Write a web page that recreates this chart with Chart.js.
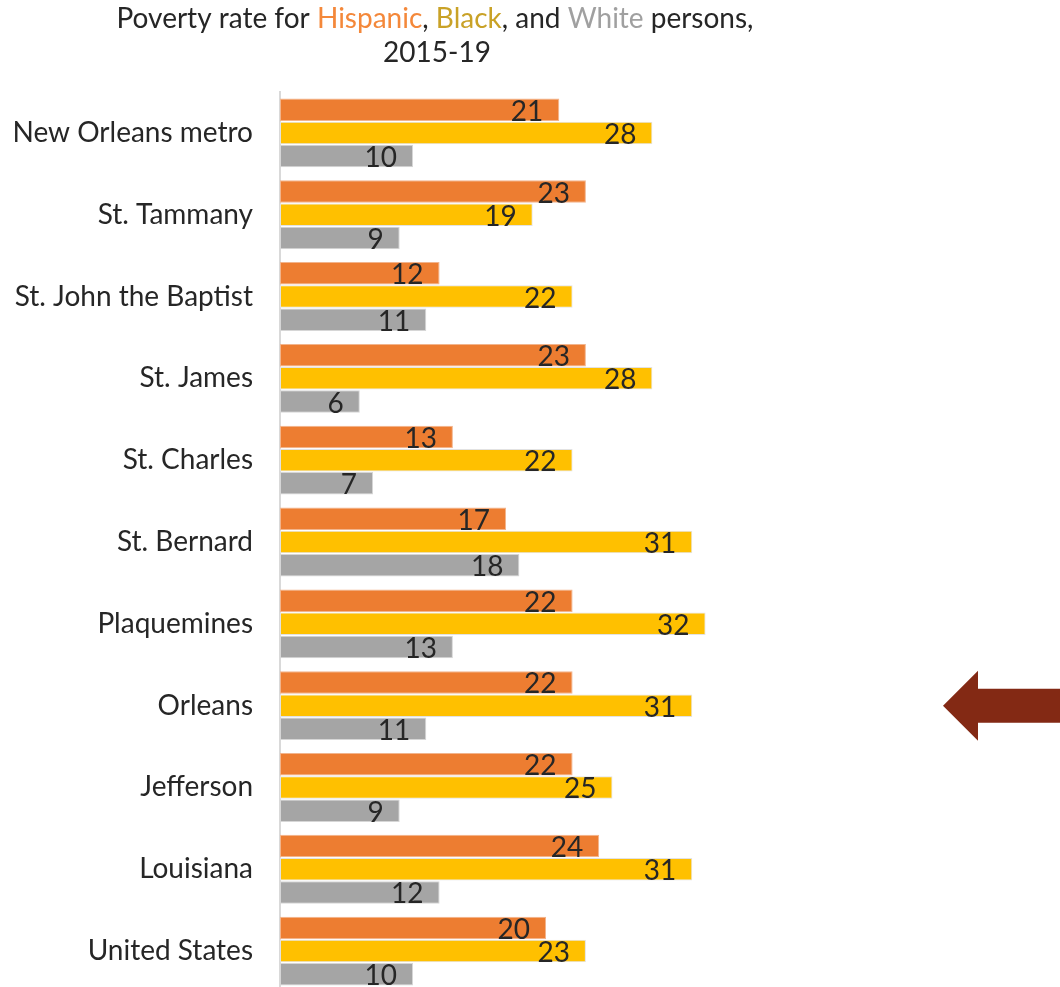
<!DOCTYPE html>
<html lang="en">
<head>
  <meta charset="UTF-8">
  <title>Poverty rate by race</title>
  <script src="https://cdn.jsdelivr.net/npm/chart.js@4.4.1/dist/chart.umd.min.js"></script>
  <style>
    html, body { margin: 0; padding: 0; background: #fff; overflow: hidden; }
    canvas { display: block; }
  </style>
</head>
<body>
  <canvas id="chart" width="1060" height="992"></canvas>
  <script>
    const places = ['New Orleans metro', 'St. Tammany', 'St. John the Baptist', 'St. James',
      'St. Charles', 'St. Bernard', 'Plaquemines', 'Orleans', 'Jefferson', 'Louisiana', 'United States'];
    const hispanic = [21, 23, 12, 23, 13, 17, 22, 22, 22, 24, 20];
    const black    = [28, 19, 22, 28, 22, 31, 32, 31, 25, 31, 23];
    const white    = [10,  9, 11,  6,  7, 18, 13, 11,  9, 12, 10];

    const FONT = 'Lato, "Open Sans", sans-serif';
    const INK = '#262626';

    // two-line title with coloured group names
    const titlePlugin = {
      id: 'colourTitle',
      afterDraw(chart) {
        const ctx = chart.ctx;
        const parts = [
          ['Poverty rate for ', INK],
          ['Hispanic', '#F4883A'],
          [', ', INK],
          ['Black', '#C9A227'],
          [', and ', INK],
          ['White', '#A0A0A0'],
          [' persons,', INK]
        ];
        ctx.save();
        ctx.font = '28px ' + FONT;
        ctx.textBaseline = 'middle';
        ctx.textAlign = 'left';
        const total = parts.reduce((s, p) => s + ctx.measureText(p[0]).width, 0);
        let x = 435 - total / 2;
        parts.forEach(p => {
          ctx.fillStyle = p[1];
          ctx.fillText(p[0], x, 19);
          x += ctx.measureText(p[0]).width;
        });
        ctx.fillStyle = INK;
        ctx.textAlign = 'center';
        ctx.fillText('2015-19', 437, 53);
        ctx.restore();
      }
    };

    // value labels sitting inside the end of each bar
    const valueLabels = {
      id: 'valueLabels',
      afterDatasetsDraw(chart) {
        const ctx = chart.ctx;
        ctx.save();
        ctx.font = '28px ' + FONT;
        ctx.fillStyle = INK;
        ctx.textAlign = 'right';
        ctx.textBaseline = 'middle';
        chart.data.datasets.forEach((ds, i) => {
          chart.getDatasetMeta(i).data.forEach((bar, j) => {
            ctx.fillText(ds.data[j], bar.x - 16, bar.y + 2);
          });
        });
        ctx.restore();
      }
    };

    // arrow pointing at the Orleans row
    const arrowPlugin = {
      id: 'arrow',
      afterDraw(chart) {
        const ctx = chart.ctx;
        const y = chart.scales.y.getPixelForValue(places.indexOf('Orleans'));
        ctx.save();
        ctx.fillStyle = '#832914';
        ctx.beginPath();
        ctx.moveTo(943, y);
        ctx.lineTo(978, y - 35);
        ctx.lineTo(978, y - 17);
        ctx.lineTo(1060, y - 17);
        ctx.lineTo(1060, y + 17);
        ctx.lineTo(978, y + 17);
        ctx.lineTo(978, y + 35);
        ctx.closePath();
        ctx.fill();
        ctx.restore();
      }
    };

    new Chart(document.getElementById('chart'), {
      type: 'bar',
      data: {
        labels: places,
        datasets: [
          { label: 'Hispanic', data: hispanic, backgroundColor: '#ED7D31', borderColor: '#F2B48C' },
          { label: 'Black', data: black, backgroundColor: '#FFC000', borderColor: '#E2E2E2' },
          { label: 'White', data: white, backgroundColor: '#A5A5A5', borderColor: '#D6D6D6' }
        ]
      },
      options: {
        indexAxis: 'y',
        responsive: false,
        animation: false,
        layout: { padding: { top: 92, right: 248, bottom: 0, left: 0 } },
        datasets: {
          bar: { categoryPercentage: 0.85, barPercentage: 0.97, borderWidth: 1, borderSkipped: false }
        },
        plugins: {
          legend: { display: false },
          title: { display: false },
          tooltip: { enabled: false }
        },
        scales: {
          x: { display: false, min: 0, max: 40 },
          y: {
            grid: { display: false },
            border: { display: true, color: '#D9D9D9', width: 2 },
            ticks: { color: INK, font: { family: FONT, size: 28 }, padding: 19 },
            afterFit(scale) {
              scale.width = 280;
              scale.paddingTop = 0;
              scale.paddingBottom = 0;
            }
          }
        }
      },
      plugins: [titlePlugin, valueLabels, arrowPlugin]
    });
  </script>
</body>
</html>
